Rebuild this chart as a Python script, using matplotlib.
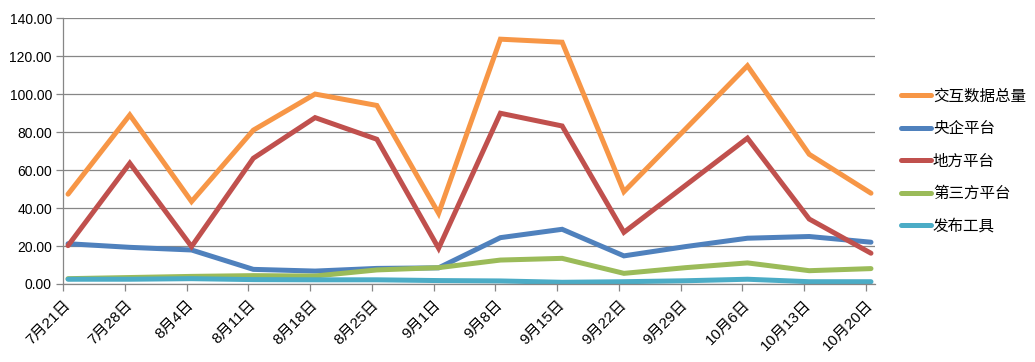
import matplotlib
matplotlib.use("Agg")
import matplotlib.pyplot as plt
from matplotlib.ticker import FuncFormatter

categories = ["7月21日", "7月28日", "8月4日", "8月11日", "8月18日", "8月25日", "9月1日",
              "9月8日", "9月15日", "9月22日", "9月29日", "10月6日", "10月13日", "10月20日"]
total = [47.3, 89.0, 43.4, 81.0, 100.0, 94.0, 37.2, 128.9, 127.3, 48.6, 81.7, 114.9, 68.3, 47.8]
central = [21.2, 19.3, 17.9, 7.7, 6.8, 8.2, 8.5, 24.4, 28.8, 14.8, 19.7, 24.1, 25.0, 22.0]
local = [20.2, 63.6, 19.7, 66.2, 87.6, 76.2, 18.8, 89.9, 83.2, 27.2, 52.0, 76.8, 34.2, 16.2]
third = [2.8, 3.4, 4.0, 4.4, 4.2, 7.4, 8.6, 12.6, 13.5, 5.6, 8.6, 11.1, 7.0, 8.1]
tools = [2.5, 2.5, 2.8, 2.3, 2.2, 2.2, 1.8, 1.6, 0.9, 1.2, 1.7, 2.5, 1.2, 1.2]

series_names = ["交互数据总量", "央企平台", "地方平台", "第三方平台", "发布工具"]
series_values = [total, central, local, third, tools]
colors = ["#F79646", "#4F81BD", "#C0504D", "#9BBB59", "#4BACC6"]

fig = plt.figure(figsize=(10.35, 3.62), dpi=100)
ax = fig.add_axes([0.0609, 0.2155, 0.8454 - 0.0609, 0.950 - 0.2155])

x = list(range(len(categories)))
for name, vals, c in zip(series_names, series_values, colors):
    ax.plot(x, vals, color=c, lw=3.6, label=name, solid_capstyle="round",
            solid_joinstyle="miter", clip_on=False)

off = 0.081
ax.set_xlim(-off, len(categories) - 1 + 0.065)
ax.set_ylim(0, 140)
ax.set_yticks(range(0, 141, 20))
ax.yaxis.set_major_formatter(FuncFormatter(lambda v, p: f"{v:.2f}"))
ax.grid(axis="y", color="#868686", lw=0.9)
ax.set_axisbelow(True)

ax.set_xticks([i - off for i in x])
ax.set_xticklabels(categories, rotation=45, ha="right", rotation_mode="anchor",
                   family=["Liberation Sans", "Noto Sans CJK SC"], fontsize=11)
for lbl in ax.get_yticklabels():
    lbl.set_family(["Liberation Sans"])
    lbl.set_fontsize(10)

for s in ["top", "right"]:
    ax.spines[s].set_visible(False)
for s in ["left", "bottom"]:
    ax.spines[s].set_color("#868686")
    ax.spines[s].set_linewidth(0.9)
ax.tick_params(axis="both", color="#868686", length=5, width=0.9, direction="out")
ax.tick_params(axis="x", pad=5)
ax.tick_params(axis="y", pad=3)

leg = fig.legend(loc="center left", bbox_to_anchor=(0.857, 0.555), frameon=False,
                 prop={"family": ["Noto Sans CJK SC"], "size": 11.2},
                 handlelength=1.95, handletextpad=0.1, labelspacing=1.0)

fig.savefig("out.png", dpi=100)
